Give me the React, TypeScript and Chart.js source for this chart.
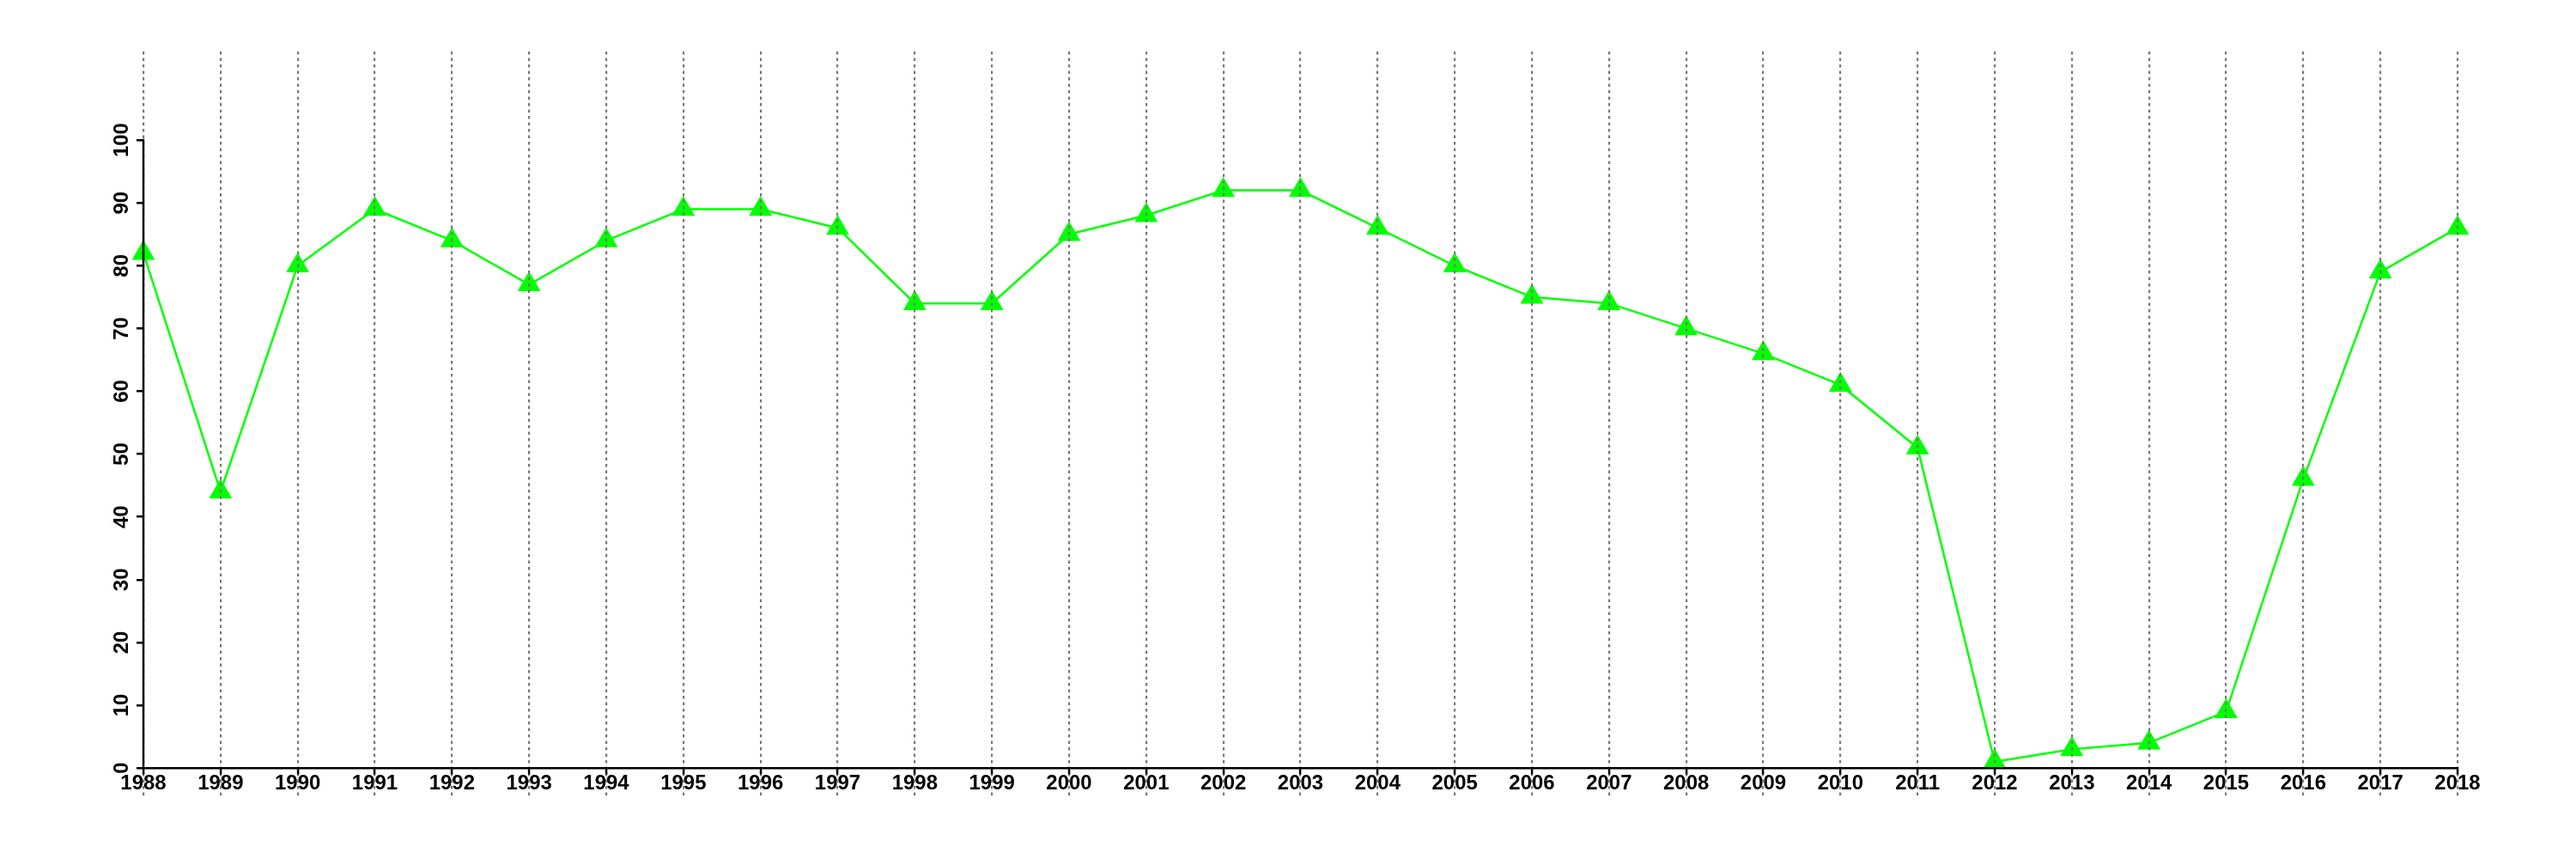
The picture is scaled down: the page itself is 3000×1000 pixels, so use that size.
import React, { useEffect, useRef } from "react";
import { Chart, registerables } from "chart.js";

Chart.register(...registerables);

const YEARS: string[] = [
  "1988", "1989", "1990", "1991", "1992", "1993", "1994", "1995", "1996", "1997",
  "1998", "1999", "2000", "2001", "2002", "2003", "2004", "2005", "2006", "2007",
  "2008", "2009", "2010", "2011", "2012", "2013", "2014", "2015", "2016", "2017", "2018",
];

const VALUES: number[] = [
  82, 44, 80, 89, 84, 77, 84, 89, 89, 86,
  74, 74, 85, 88, 92, 92, 86, 80, 75, 74,
  70, 66, 61, 51, 1, 3, 4, 9, 46, 79, 86,
];

const Y_TICKS: number[] = [0, 10, 20, 30, 40, 50, 60, 70, 80, 90, 100];

const FONT = { family: "'Liberation Sans', Arial, Helvetica, sans-serif", size: 24, weight: "bold" as const, lineHeight: 1 };

const yAxisLinePlugin = {
  id: "yAxisLine",
  afterDraw(chart: any) {
    const y = chart.scales.y;
    const x = chart.scales.x;
    const ctx = chart.ctx;
    const px = x.getPixelForValue(0);
    ctx.save();
    ctx.strokeStyle = "#000000";
    ctx.lineWidth = 2.5;
    ctx.beginPath();
    ctx.moveTo(px, y.getPixelForValue(Y_TICKS[0]) + 1.25);
    ctx.lineTo(px, y.getPixelForValue(Y_TICKS[Y_TICKS.length - 1]) - 1.25);
    ctx.stroke();
    ctx.restore();
  },
};

export default function App() {
  const ref = useRef<HTMLCanvasElement | null>(null);

  useEffect(() => {
    if (!ref.current) return;
    const chart = new Chart(ref.current, {
      type: "line",
      data: {
        labels: YEARS,
        datasets: [
          {
            data: VALUES,
            borderColor: "#00ff00",
            backgroundColor: "#00ff00",
            borderWidth: 2.5,
            pointStyle: "triangle",
            pointRadius: 15.5,
            pointBackgroundColor: "#00ff00",
            pointBorderColor: "#00ff00",
            pointBorderWidth: 0,
            tension: 0,
            fill: false,
            clip: false as any,
          },
        ],
      },
      options: {
        responsive: false,
        animation: false,
        layout: { padding: { left: 0, right: 138, top: 60, bottom: 73 } },
        plugins: { legend: { display: false }, tooltip: { enabled: false }, title: { display: false } },
        scales: {
          x: {
            type: "category",
            position: { y: 0 } as any,
            offset: false,
            grid: {
              display: true,
              offset: false,
              color: "#787878",
              lineWidth: 2.2,
              drawOnChartArea: true,
              drawTicks: true,
              tickLength: 6,
              tickColor: "#000000",
              tickWidth: 2.5,
              tickBorderDash: [],
              z: 1,
            } as any,
            border: { display: true, color: "#000000", width: 2.5, dash: [3.4, 4.1], z: 1 } as any,
            ticks: {
              autoSkip: false,
              maxRotation: 0,
              minRotation: 0,
              padding: 0,
              color: "#000000",
              font: FONT,
            },
          },
          y: {
            type: "linear",
            position: "left",
            min: -4.5,
            max: 114.1,
            afterBuildTicks: (scale: any) => {
              scale.ticks = Y_TICKS.map((v) => ({ value: v }));
            },
            afterFit: (scale: any) => {
              scale.width = 167;
            },
            grid: {
              display: true,
              drawOnChartArea: false,
              drawTicks: true,
              tickLength: 8,
              tickColor: "#000000",
              tickWidth: 2.5,
              color: "#000000",
              lineWidth: 2.5,
            },
            border: { display: false },
            ticks: {
              minRotation: 90,
              maxRotation: 90,
              crossAlign: "center",
              padding: -3,
              color: "#000000",
              font: FONT,
              callback: (v: any) => String(v),
            },
          },
        },
      },
      plugins: [yAxisLinePlugin],
    });
    return () => chart.destroy();
  }, []);

  return (
    <div style={{ position: "fixed", left: 0, top: 0, width: 3000, height: 1000, background: "#ffffff" }}>
      <canvas ref={ref} width={3000} height={1000} style={{ display: "block", width: 3000, height: 1000 }} />
    </div>
  );
}
